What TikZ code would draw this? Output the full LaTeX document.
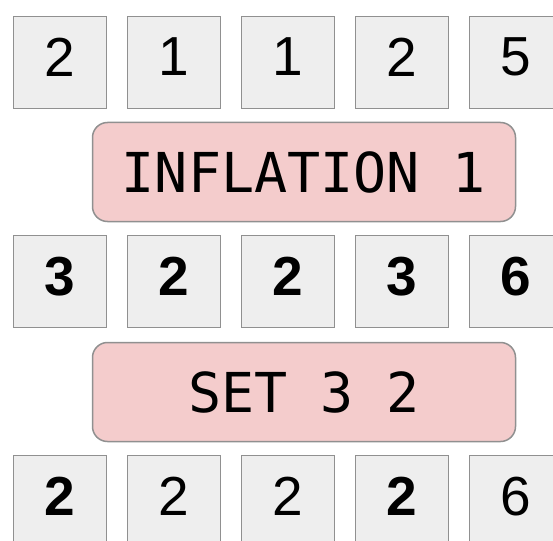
\documentclass[tikz,border=0pt]{standalone}
\usepackage{fontspec}
\setmainfont{Liberation Sans}
\setmonofont{DejaVu Sans Mono}
\usepackage{xcolor}
\usetikzlibrary{positioning}

\definecolor{cellgray}{HTML}{EEEEEE}
\definecolor{edgegray}{HTML}{909090}
\definecolor{oppink}{HTML}{F4CCCC}

\tikzset{
    cell/.style={draw=edgegray, fill=cellgray, line width=1.8pt,
        minimum width=93pt, minimum height=92pt, inner sep=0pt,
        text depth=11pt, font=\fontsize{55}{55}\selectfont},
    opbox/.style={draw=edgegray, fill=oppink, line width=1.5pt,
        rounded corners=15pt, minimum width=423pt, minimum height=99pt,
        inner sep=0pt, font=\ttfamily\fontsize{55}{55}\selectfont}
}

\begin{document}
\begin{tikzpicture}[x=1pt, y=-1pt]
    \useasboundingbox (0,0) rectangle (553,540);

    % Hàng đầu vào
    \foreach \v [count=\i] in {2,1,1,2,5} {
        \node[cell] (a\i) at ({60+114*(\i-1)},62.5) {\v};
    }

    % Phép INFLATION
    \node[opbox] (infl) at (304,172) {INFLATION 1};

    % Hàng sau INFLATION
    \foreach \v [count=\i] in {3,2,2,3,6} {
        \node[cell, font=\bfseries\fontsize{55}{55}\selectfont] (b\i) at ({60+114*(\i-1)},281.5) {\v};
    }

    % Phép SET
    \node[opbox] (set) at (304,392) {SET 3 2};

    % Hàng sau SET
    \foreach \v [count=\i] in {{\bfseries 2},2,2,{\bfseries 2},6} {
        \node[cell] (c\i) at ({60+114*(\i-1)},501.5) {\v};
    }
\end{tikzpicture}
\end{document}
